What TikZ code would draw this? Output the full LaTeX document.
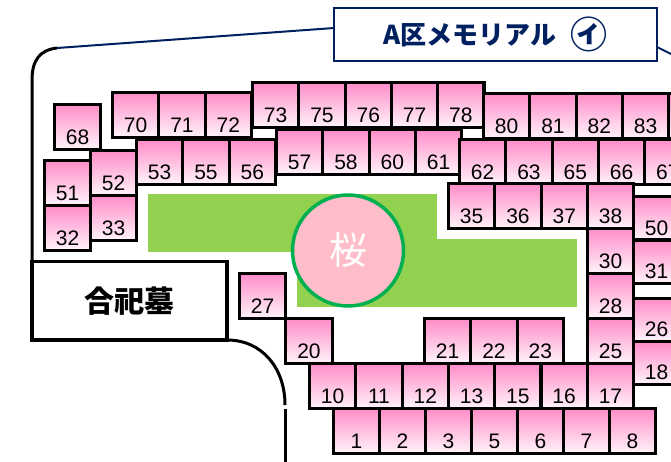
\documentclass[tikz,border=0pt]{standalone}
\usepackage{fontspec}
\setmainfont{Liberation Sans}
\newfontfamily\jpfont{Noto Sans CJK JP}
\usetikzlibrary{positioning}

\definecolor{navy}{RGB}{0,32,96}
\definecolor{lawn}{RGB}{146,208,80}
\definecolor{ringgreen}{RGB}{0,176,80}
\definecolor{sakura}{RGB}{255,189,201}
\definecolor{gravetop}{RGB}{255,140,200}
\definecolor{gravebot}{RGB}{255,244,250}

\tikzset{
  grave/.style={draw, line width=3.2pt, top color=gravetop, bottom color=gravebot,
    minimum width=46.3pt, minimum height=45pt, inner sep=0pt, outer sep=0pt,
    label={[gravenum]south:#1}},
  grave/.default={},
  gravenum/.style={anchor=south, yshift=4.5pt, inner sep=0pt, font=\fontsize{21}{21}\selectfont},
}

\begin{document}
\begin{tikzpicture}[x=1pt, y=-1pt, node distance=0pt]
    \useasboundingbox (0,0) rectangle (671,461);

    % lawn and the cherry tree
    \fill[lawn] (148,194) rectangle (437,251.5);
    \fill[lawn] (297,239) rectangle (577,307);
    \node[circle, draw=ringgreen, line width=3.5pt, fill=sakura, minimum size=111pt, inner sep=0pt, text=white, font=\jpfont\fontsize{38}{38}\selectfont] (tree) at (348,250.5) {桜};

    % title and common tomb
    \node[draw=navy, line width=2.2pt, outer sep=0pt, minimum width=323pt, minimum height=53pt, text=navy, font=\jpfont\bfseries\fontsize{26}{26}\selectfont] (title) at (495.5,34.5) {A区メモリアル\hspace{14pt}\raisebox{-4pt}{\fontsize{37}{37}\selectfont ㋑}};
    \node[draw, line width=3.5pt, outer sep=0pt, minimum width=195pt, minimum height=78.5pt, font=\jpfont\bfseries\fontsize{30}{30}\selectfont] (tomb) at (129.5,300.75) {合祀墓};

    % upper rows
    \node[grave=70, anchor=north west] (g70) at (112.5,92.5) {};
    \node[grave=71, right=of g70] (g71) {};
    \node[grave=72, right=of g71] (g72) {};
    \node[grave=73, anchor=north west] (g73) at (252.5,82.5) {};
    \node[grave=75, right=of g73] (g75) {};
    \node[grave=76, right=of g75] (g76) {};
    \node[grave=77, right=of g76] (g77) {};
    \node[grave=78, right=of g77] (g78) {};
    \node[grave=80, anchor=north west] (g80) at (483.5,93.5) {};
    \node[grave=81, right=of g80] (g81) {};
    \node[grave=82, right=of g81] (g82) {};
    \node[grave=83, right=of g82] (g83) {};
    \node[grave, right=of g83] (g84) {};

    \node[grave=68, anchor=north west] (g68) at (54.5,104.5) {};
    \node[grave=53, anchor=north west] (g53) at (136.5,139.5) {};
    \node[grave=55, right=of g53] (g55) {};
    \node[grave=56, right=of g55] (g56) {};
    \node[grave=57, anchor=north west] (g57) at (276.5,129.5) {};
    \node[grave=58, right=of g57] (g58) {};
    \node[grave=60, right=of g58] (g60) {};
    \node[grave=61, right=of g60] (g61) {};
    \node[grave=62, anchor=north west] (g62) at (459.5,139.5) {};
    \node[grave=63, right=of g62] (g63) {};
    \node[grave=65, right=of g63] (g65) {};
    \node[grave=66, right=of g65] (g66) {};
    \node[grave=67, right=of g66] (g67) {};

    % left block
    \node[grave=52, anchor=north west] (g52) at (90.5,150.5) {};
    \node[grave=33, below=of g52] (g33) {};
    \node[grave=51, anchor=north west] (g51) at (44.5,160.5) {};
    \node[grave=32, below=of g51] (g32) {};

    % right block
    \node[grave=35, anchor=north west] (g35) at (448.5,183.5) {};
    \node[grave=36, right=of g35] (g36) {};
    \node[grave=37, right=of g36] (g37) {};
    \node[grave=38, right=of g37] (g38) {};
    \node[grave=30, below=of g38] (g30) {};
    \node[grave=28, below=of g30] (g28) {};
    \node[grave=25, below=of g28] (g25) {};
    \node[grave=50, minimum height=43.5pt, anchor=north west] (g50) at (633.5,196.5) {};
    \node[grave=31, minimum height=43.5pt, below=of g50] (g31) {};
    \node[grave=26, minimum height=43pt, anchor=north west] (g26) at (633.5,298.5) {};
    \node[grave=18, minimum height=43pt, below=of g26] (g18) {};
    \node[grave=21, anchor=north west] (g21) at (424.5,318.5) {};
    \node[grave=22, right=of g21] (g22) {};
    \node[grave=23, right=of g22] (g23) {};

    % lower rows
    \node[grave=27, anchor=north west] (g27) at (239.5,273.5) {};
    \node[grave=20, below right=of g27] (g20) {};
    \node[grave=10, anchor=north west] (g10) at (309.5,363.5) {};
    \node[grave=11, right=of g10] (g11) {};
    \node[grave=12, right=of g11] (g12) {};
    \node[grave=13, right=of g12] (g13) {};
    \node[grave=15, right=of g13] (g15) {};
    \node[grave=16, right=of g15] (g16) {};
    \node[grave=17, right=of g16] (g17) {};
    \node[grave=1, minimum width=46pt, anchor=north west] (g1) at (333.5,408.5) {};
    \node[grave=2, minimum width=46pt, right=of g1] (g2) {};
    \node[grave=3, minimum width=46pt, right=of g2] (g3) {};
    \node[grave=5, minimum width=46pt, right=of g3] (g5) {};
    \node[grave=6, minimum width=46pt, right=of g5] (g6) {};
    \node[grave=7, minimum width=46pt, right=of g6] (g7) {};
    \node[grave=8, minimum width=46pt, right=of g7] (g8) {};

    % boundary of the site
    \coordinate (bend) at (32,80);
    \coordinate (corner) at (57,48);
    \coordinate (gate) at (334,28);
    \coordinate (exit) at (657,47);
    \coordinate (edge) at (673,55);
    \coordinate (lane) at (285,405);
    \coordinate (walk) at (285,409);
    \coordinate (foot) at (285,462);
    \draw[line width=3pt] (tomb.north west) -- (bend) .. controls (32,60) and (40,50) .. (corner);
    \draw[navy, line width=2pt] (corner) -- (gate);
    \draw[navy, line width=2pt] (exit) -- (edge);
    \draw[line width=3pt] (tomb.south east) .. controls (262,340) and (285,368) .. (lane);
    \draw[line width=3pt] (walk) -- (foot);

\end{tikzpicture}
\end{document}
